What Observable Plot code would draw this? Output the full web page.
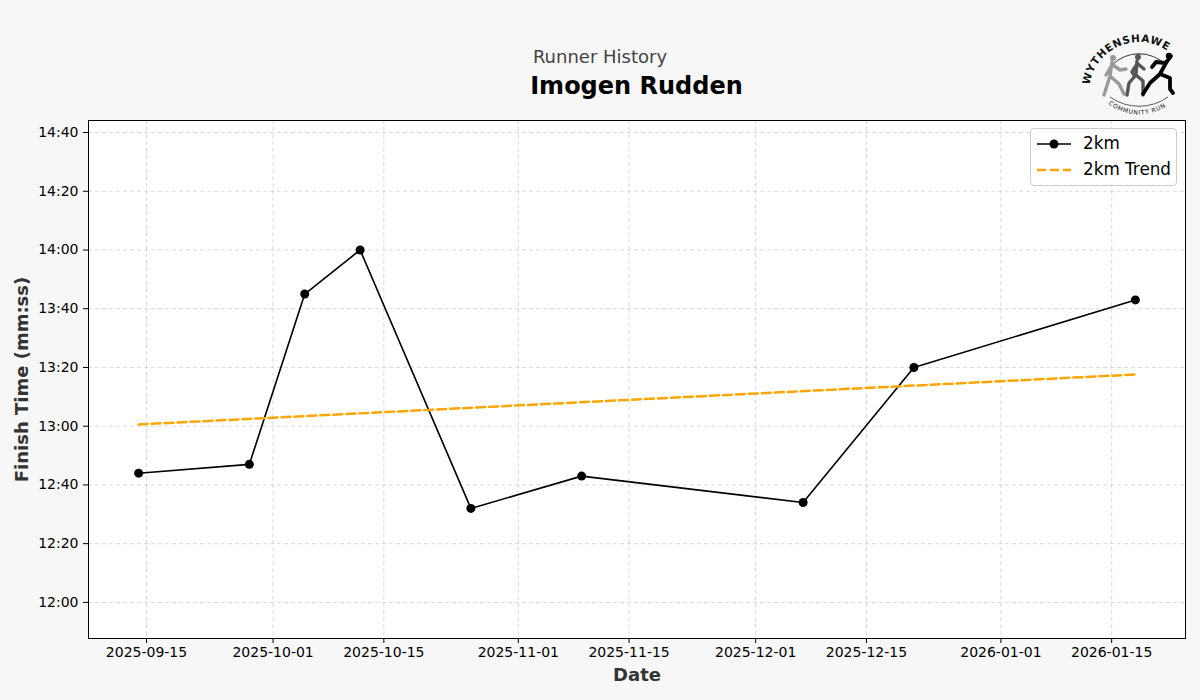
<!DOCTYPE html>
<html>
<head>
<meta charset="utf-8">
<script src="https://cdn.jsdelivr.net/npm/d3@7"></script>
<script src="https://cdn.jsdelivr.net/npm/@observablehq/plot@0.6"></script>
<style>
  html, body { margin: 0; padding: 0; background: #f7f7f7; }
  body { width: 1200px; height: 700px; position: relative; overflow: hidden; font-family: "DejaVu Sans", sans-serif; }
  #header { position: relative; height: 110px; }
  #sup { position: absolute; left: 0; width: 1200px; top: 46px; text-align: center; font-size: 18px; color: #444; }
  #title { position: absolute; left: 0; width: 1273px; top: 72px; text-align: center; font-size: 24px; font-weight: bold; color: #000; white-space: nowrap; }
  #logo { position: absolute; left: 1082px; top: 22px; overflow: visible; }
  #legend { position: absolute; left: 1030px; top: 128px; width: 147px; height: 58px; background: rgba(255,255,255,0.85); border: 1px solid #ccc; border-radius: 4px; box-sizing: border-box; }
  .lg { position: absolute; left: 0; font-size: 16.8px; color: #000; }
</style>
</head>
<body>
<div id="header">
  <div id="sup">Runner History</div>
  <div id="title">Imogen Rudden</div>
  <svg id="logo" width="100" height="100" viewBox="0 0 100 100">
    <defs>
      <path id="arcTop" d="M 7.5 63 A 50 50 0 0 1 87.8 30.6" fill="none"/>
      <path id="arcBot" d="M 24 80 A 50 50 0 0 0 90 80" fill="none"/>
    </defs>
    <text font-family="DejaVu Sans" font-size="10.5" font-weight="bold" fill="#111"><textPath href="#arcTop" textLength="101" lengthAdjust="spacing">WYTHENSHAWE</textPath></text>
    <path d="M 30 43 A 38 38 0 0 1 84 43" fill="none" stroke="#333" stroke-width="1"/>
    <path d="M 28 75 A 50 50 0 0 0 86 75" fill="none" stroke="#333" stroke-width="0.8"/>
    <text font-family="DejaVu Sans" font-size="6" fill="#111"><textPath href="#arcBot" startOffset="3" textLength="61" lengthAdjust="spacing">COMMUNITY RUN</textPath></text>
    <g fill="none" stroke-linecap="round" stroke-linejoin="round">
      <g stroke="#9a9a9a" stroke-width="3.4">
        <circle cx="31" cy="36" r="3" fill="#9a9a9a" stroke="none"/>
        <path d="M30 40 L28 54 L22 73 M28 54 L37 62 L42 72 M30 43 L24 53 M31 43 L38 48 L44 47"/>
      </g>
      <g stroke="#555" stroke-width="3.4">
        <circle cx="56" cy="35" r="3" fill="#555" stroke="none"/>
        <path d="M55 39 L54 53 L47 61 L45 73 M54 53 L61 59 L61 73 M55 42 L50 50 L52 53 M56 42 L62 47"/>
      </g>
      <g stroke="#000" stroke-width="3.8">
        <circle cx="87" cy="34" r="3.2" fill="#000" stroke="none"/>
        <path d="M85 39 L78 52 L68 61 L61 72 M78 52 L88 56 L88 67 L91 71 M83 41 L74 40 L70 45 M84 41 L89 34"/>
      </g>
    </g>
  </svg>
</div>
<div id="chart"></div>
<div id="legend">
  <svg style="position:absolute;left:0;top:0" width="147" height="58">
    <line x1="6" x2="40" y1="15" y2="15" stroke="#000" stroke-width="1.5"/>
    <circle cx="23" cy="15" r="4.5" fill="#000"/>
    <line x1="6" x2="40" y1="41" y2="41" stroke="#ffa500" stroke-width="2.5" stroke-dasharray="9,4"/>
  </svg>
  <div class="lg" style="left:52px;top:4px">2km</div>
  <div class="lg" style="left:52px;top:30px">2km Trend</div>
</div>
<script>
// ---- data ----
const runDates = ["2025-09-14","2025-09-28","2025-10-05","2025-10-12","2025-10-26","2025-11-09","2025-12-07","2025-12-21","2026-01-18"];
const runTimes = ["12:44","12:47","13:45","14:00","12:32","12:43","12:34","13:20","13:43"];
const trendDates = ["2025-09-14","2026-01-18"];
const trendSeconds = [780.6, 797.6];
const xTickLabels = ["2025-09-15","2025-10-01","2025-10-15","2025-11-01","2025-11-15","2025-12-01","2025-12-15","2026-01-01","2026-01-15"];
const yTickLabels = ["12:00","12:20","12:40","13:00","13:20","13:40","14:00","14:20","14:40"];

const toSec = s => { const [m, ss] = s.split(":").map(Number); return m * 60 + ss; };
const fmt = v => { const m = Math.floor(v / 60), s = Math.round(v - m * 60); return `${m}:${String(s).padStart(2, "0")}`; };
const parse = d3.utcParse("%Y-%m-%d");

const runs = runDates.map((d, i) => ({date: parse(d), sec: toSec(runTimes[i])}));
const trend = trendDates.map((d, i) => ({date: parse(d), sec: trendSeconds[i]}));
const xTicks = xTickLabels.map(parse);
const yTicks = yTickLabels.map(toSec);

const chart = Plot.plot({
  width: 1200,
  height: 590,
  marginLeft: 88,
  marginRight: 15,
  marginTop: 10,
  marginBottom: 62,
  style: {background: "transparent", fontFamily: "DejaVu Sans", fontSize: "14px", color: "#000"},
  x: {type: "utc", domain: [new Date(Date.UTC(2025, 8, 7, 16)), new Date(Date.UTC(2026, 0, 24, 8))]},
  y: {domain: [707.7, 884.1]},
  marks: [
    Plot.frame({fill: "white"}),
    Plot.gridX(xTicks, {stroke: "#bbb", strokeOpacity: 0.55, strokeDasharray: "4,3"}),
    Plot.gridY(yTicks, {stroke: "#bbb", strokeOpacity: 0.55, strokeDasharray: "4,3"}),
    Plot.line(runs, {x: "date", y: "sec", stroke: "black", strokeWidth: 1.6}),
    Plot.dot(runs, {x: "date", y: "sec", r: 4.5, fill: "black"}),
    Plot.line(trend, {x: "date", y: "sec", stroke: "#ffa500", strokeWidth: 2.5, strokeDasharray: "9,4"}),
    Plot.axisX(xTicks, {tickFormat: d3.utcFormat("%Y-%m-%d"), tickSize: 5, tickPadding: 4, label: null, fontSize: 14}),
    Plot.axisY(yTicks, {tickFormat: fmt, tickSize: 5, tickPadding: 5, label: null, fontSize: 14}),
    Plot.frame({stroke: "black", strokeWidth: 1}),
    Plot.text(["Date"], {frameAnchor: "bottom", dy: 37, lineAnchor: "middle", fontWeight: "bold", fontSize: 18, fill: "#333"}),
    Plot.text(["Finish Time (mm:ss)"], {frameAnchor: "left", dx: -66, rotate: -90, textAnchor: "middle", lineAnchor: "middle", fontWeight: "bold", fontSize: 18, fill: "#333"})
  ]
});
document.getElementById("chart").appendChild(chart);
</script>
</body>
</html>
